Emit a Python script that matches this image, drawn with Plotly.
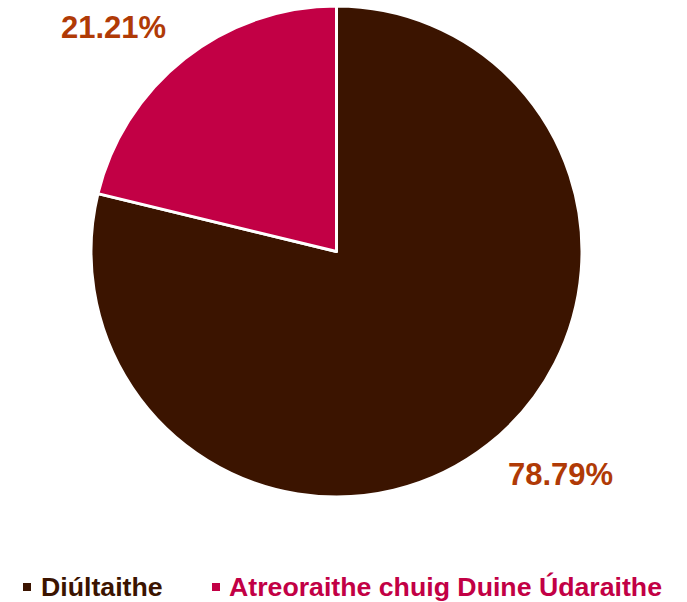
import plotly.graph_objects as go

categories = ["Diúltaithe", "Atreoraithe chuig Duine Údaraithe"]
values = [78.79, 21.21]
colors = ["#3b1400", "#c20045"]
label_color = "#b03a06"

W, H = 687, 602

fig = go.Figure(go.Pie(
    labels=categories,
    values=values,
    sort=False,
    direction="clockwise",
    rotation=0,
    marker=dict(colors=colors, line=dict(color="white", width=3)),
    textinfo="none",
    hoverinfo="label+percent",
    showlegend=False,
    domain=dict(x=[91/W, 582/W], y=[(H-497)/H, (H-6)/H]),
))

# data labels (centred positions)
label_pos = [(560, 474), (113, 27)]
for v, (x, y) in zip(values, label_pos):
    fig.add_annotation(x=x/W, y=1-y/H, xref="paper", yref="paper", text=f"<b>{v:.2f}%</b>",
                       xanchor="center", yanchor="middle", showarrow=False,
                       font=dict(family="Liberation Sans, Arial", size=31, color=label_color))

# legend
leg_marker_x = [23, 212]
leg_text_x = [39, 227]
leg_y = 587
for cat, c, mx, tx in zip(categories, colors, leg_marker_x, leg_text_x):
    fig.add_shape(type="rect", xref="paper", yref="paper",
                  x0=mx/W, x1=(mx+8)/W, y0=1-(leg_y+4)/H, y1=1-(leg_y-4)/H,
                  fillcolor=c, line=dict(width=0))
    fig.add_annotation(x=tx/W, y=1-leg_y/H, xref="paper", yref="paper", text=f"<b>{cat}</b>", showarrow=False,
                       xanchor="left", yanchor="middle",
                       font=dict(family="Liberation Sans, Arial", size=26.7, color=c))

fig.update_layout(width=W, height=H, margin=dict(l=0, r=0, t=0, b=0),
                  paper_bgcolor="white", plot_bgcolor="white")
fig.write_html("out.html", config={"displayModeBar": False},
               post_script="document.body.style.margin='0';")
